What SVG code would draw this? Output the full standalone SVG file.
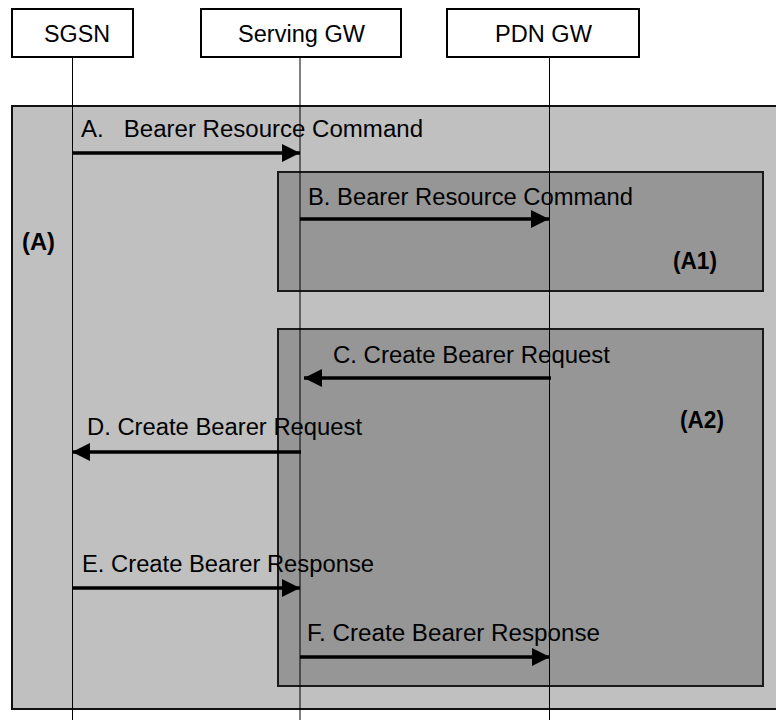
<svg xmlns="http://www.w3.org/2000/svg" width="776" height="720" viewBox="0 0 776 720">
<style>
text{font-family:"Liberation Sans",Arial,sans-serif;font-size:23px;fill:#000}
.b{font-weight:bold}
.hdr{fill:#fff;stroke:#000;stroke-width:2}
.outer{fill:#c0c0c0;stroke:#111;stroke-width:2}
.inner{fill:#969696;stroke:#1a1a1a;stroke-width:2}
.life{stroke:#000;stroke-width:1;fill:none}
.msg{stroke:#000;stroke-width:3.5;fill:none;marker-end:url(#ah)}
</style>
<defs>
<marker id="ah" markerUnits="userSpaceOnUse" markerWidth="18" markerHeight="18" viewBox="0 0 16 16" refX="16" refY="8" orient="auto">
<path d="M0,0 L16,8 L0,16 z" fill="#000"/>
</marker>
</defs>
<rect width="776" height="720" fill="#fff"/>
<g id="frame-A">
<rect class="outer" x="12" y="106" width="780" height="603"/>
<text class="b" x="22" y="250" textLength="33" lengthAdjust="spacingAndGlyphs">(A)</text>
</g>
<g id="frame-A1">
<rect class="inner" x="278" y="172" width="485" height="119"/>
<text class="b" x="673" y="269" textLength="44" lengthAdjust="spacingAndGlyphs">(A1)</text>
</g>
<g id="frame-A2">
<rect class="inner" x="278" y="329" width="485" height="357"/>
<text class="b" x="680" y="428" textLength="44" lengthAdjust="spacingAndGlyphs">(A2)</text>
</g>
<g id="node-sgsn">
<rect class="hdr" x="12" y="9" width="121" height="48"/>
<text x="44" y="42" textLength="66" lengthAdjust="spacingAndGlyphs">SGSN</text>
</g>
<g id="node-sgw">
<rect class="hdr" x="201" y="9" width="200" height="48"/>
<text x="238" y="42" textLength="127" lengthAdjust="spacingAndGlyphs">Serving GW</text>
</g>
<g id="node-pgw">
<rect class="hdr" x="447" y="9" width="192" height="48"/>
<text x="495" y="42" textLength="97" lengthAdjust="spacingAndGlyphs">PDN GW</text>
</g>
<g id="connectors">
<line class="life" x1="72.5" y1="57" x2="72.5" y2="720"/>
<line class="life" x1="300" y1="57" x2="300" y2="720"/>
<line class="life" x1="549.5" y1="57" x2="549.5" y2="720"/>
<line class="msg" x1="72" y1="153" x2="300" y2="153"/>
<line class="msg" x1="300" y1="219" x2="549" y2="219"/>
<line class="msg" x1="551" y1="378" x2="304" y2="378"/>
<line class="msg" x1="301" y1="452" x2="72" y2="452"/>
<line class="msg" x1="72" y1="588" x2="300" y2="588"/>
<line class="msg" x1="300" y1="657" x2="550" y2="657"/>
<text x="81" y="137" xml:space="preserve" textLength="342" lengthAdjust="spacingAndGlyphs">A.   Bearer Resource Command</text>
<text x="308" y="205" textLength="325" lengthAdjust="spacingAndGlyphs">B. Bearer Resource Command</text>
<text x="333" y="363" textLength="277" lengthAdjust="spacingAndGlyphs">C. Create Bearer Request</text>
<text x="87" y="435" textLength="275" lengthAdjust="spacingAndGlyphs">D. Create Bearer Request</text>
<text x="82" y="572" textLength="292" lengthAdjust="spacingAndGlyphs">E. Create Bearer Response</text>
<text x="307" y="641" textLength="293" lengthAdjust="spacingAndGlyphs">F. Create Bearer Response</text>
</g>
</svg>
